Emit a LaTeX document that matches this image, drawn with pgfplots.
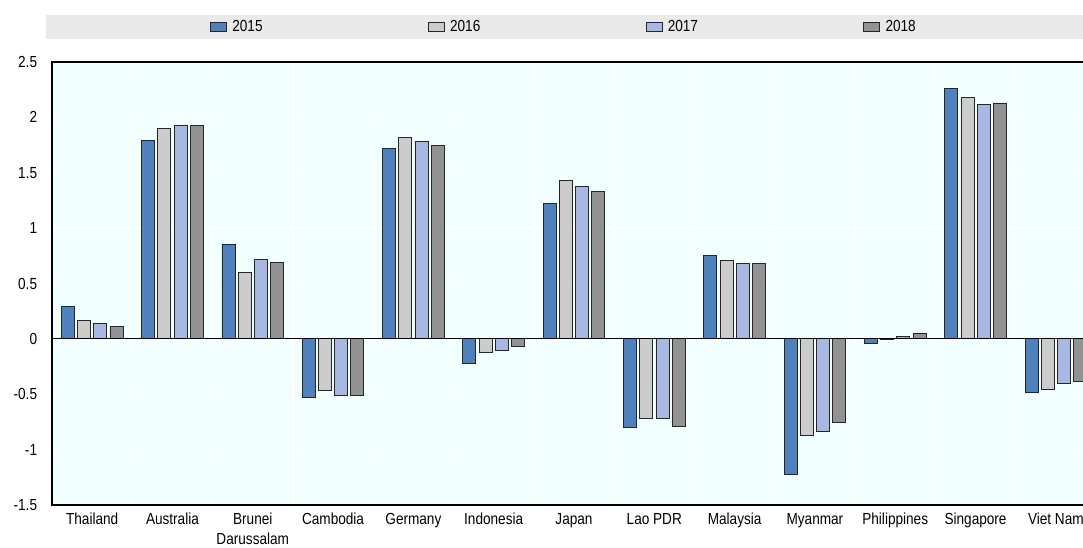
\documentclass[border=0pt]{standalone}
\usepackage{fontspec}
\setmainfont{Liberation Sans}[FakeStretch=0.85]
\usepackage{pgfplots}
\pgfplotsset{compat=1.18}
\definecolor{bgc}{HTML}{F2FFFF}
\definecolor{c15}{HTML}{4F81BD}
\definecolor{c16}{HTML}{CCCCCC}
\definecolor{c17}{HTML}{A7B9E3}
\definecolor{c18}{HTML}{929292}
\definecolor{legbg}{HTML}{E9E9E9}
\begin{document}
\begin{tikzpicture}
\fill[legbg] (-4.5pt,349.5pt) rectangle (820pt,367.5pt);
\begin{axis}[
  at={(0,0)}, anchor=south west,
  scale only axis, width=783pt, height=332.25pt,
  xmin=-0.5, xmax=12.5, ymin=-1.5, ymax=2.5,
  enlargelimits=false,
  ybar=2.4pt, bar width=9.75pt,
  axis background/.style={fill=bgc},
  axis line style={black, line width=0.9pt},
  xtick={0,...,12},
  xticklabels={Thailand,Australia,Brunei\\Darussalam,Cambodia,Germany,Indonesia,Japan,Lao PDR,Malaysia,Myanmar,Philippines,Singapore,Viet Nam},
  minor xtick={0.5,1.5,...,11.5},
  xminorgrids, minor grid style={white, line width=1pt},
  ytick={-1.5,-1,...,2.5},
  ymajorgrids, major grid style={white, line width=1pt},
  major tick length=0pt, minor tick length=0pt,
  tick style={draw=none},
  /pgf/number format/assume math mode=true,
  tick label style={font=\fontsize{12}{14.5}\selectfont},
  yticklabel style={inner sep=0pt, xshift=-11pt},
  xticklabel style={inner sep=0pt, yshift=-6pt, align=center},
  legend columns=4,
  legend style={draw=none, fill=none, inner sep=0pt, at={(rel axis cs:0.1513,1.079)}, anchor=west,
    font=\fontsize{12}{15}\selectfont, nodes={inner sep=2pt},
    /tikz/every even column/.append style={column sep=122pt}},
  legend image code/.code={\draw[#1] (0pt,-3.4pt) rectangle (12pt,3.4pt);},
  every axis plot/.append style={draw=black!85, line width=0.6pt},
]
\addplot[fill=c15] coordinates {(0,0.29) (1,1.79) (2,0.855) (3,-0.527) (4,1.72) (5,-0.22) (6,1.22) (7,-0.80) (8,0.75) (9,-1.22) (10,-0.04) (11,2.26) (12,-0.48)};
\addplot[fill=c16] coordinates {(0,0.165) (1,1.90) (2,0.596) (3,-0.467) (4,1.82) (5,-0.124) (6,1.43) (7,-0.72) (8,0.71) (9,-0.87) (10,-0.005) (11,2.18) (12,-0.455)};
\addplot[fill=c17] coordinates {(0,0.14) (1,1.93) (2,0.716) (3,-0.509) (4,1.785) (5,-0.108) (6,1.376) (7,-0.72) (8,0.68) (9,-0.835) (10,0.02) (11,2.12) (12,-0.40)};
\addplot[fill=c18] coordinates {(0,0.11) (1,1.93) (2,0.687) (3,-0.509) (4,1.75) (5,-0.072) (6,1.33) (7,-0.79) (8,0.68) (9,-0.755) (10,0.045) (11,2.13) (12,-0.385)};
\addlegendentry{\,2015}
\addlegendentry{\,2016}
\addlegendentry{\,2017}
\addlegendentry{\,2018}
\draw[black, line width=0.9pt] (axis cs:-0.5,0) -- (axis cs:12.5,0);
\end{axis}
\pgfresetboundingbox
\useasboundingbox (-39pt,-31.5pt) rectangle (773.25pt,378.75pt);
\end{tikzpicture}
\end{document}
